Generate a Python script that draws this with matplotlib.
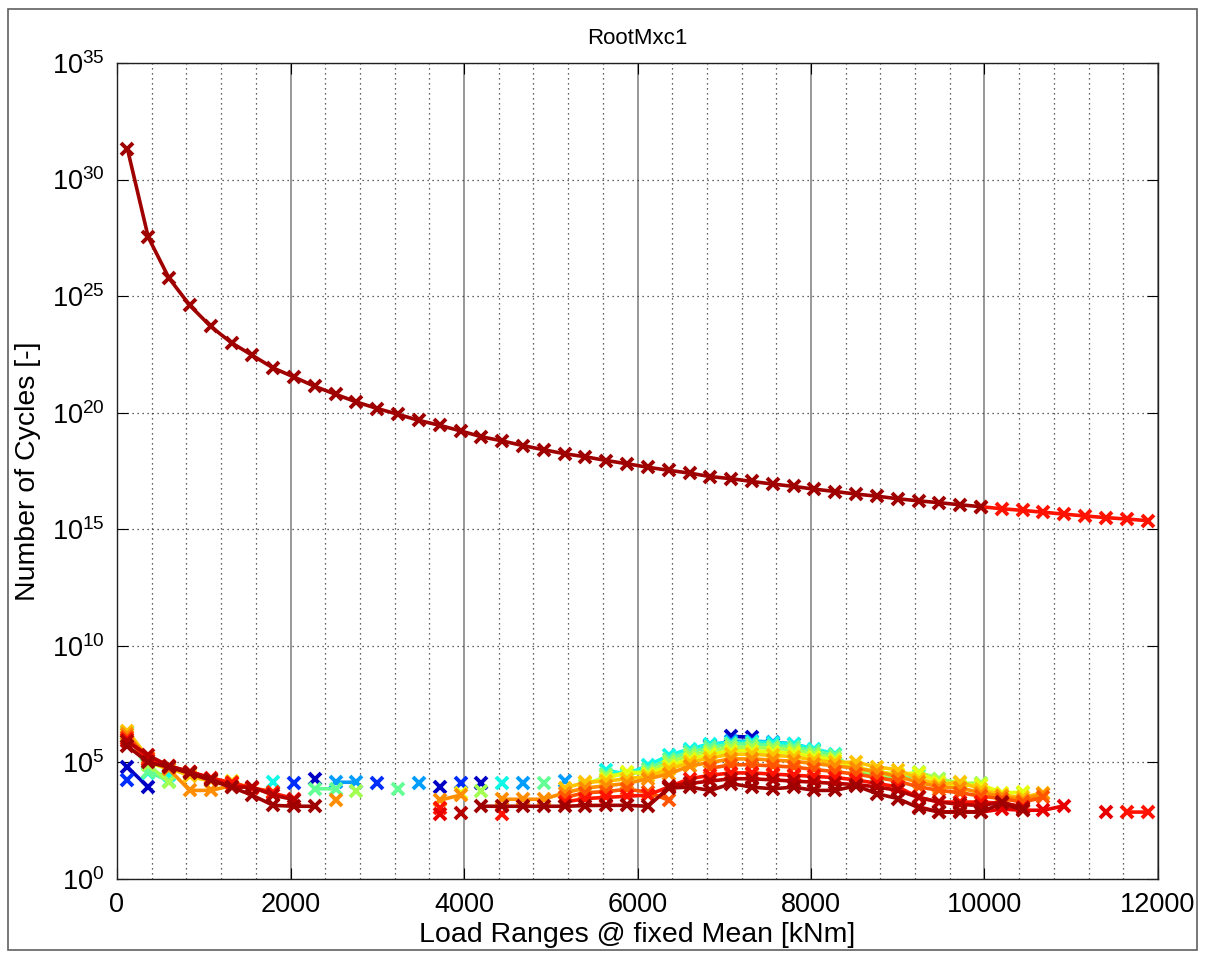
import numpy as np
import matplotlib
matplotlib.use("Agg")
import matplotlib.pyplot as plt
from matplotlib import cm
from matplotlib.ticker import MultipleLocator, NullLocator
from matplotlib.patches import Rectangle

plt.rcParams['font.family'] = ['Liberation Sans', 'DejaVu Sans']
plt.rcParams['mathtext.fontset'] = 'custom'
plt.rcParams['mathtext.rm'] = 'Liberation Sans'
plt.rcParams['mathtext.it'] = 'Liberation Sans:italic'

# bin centres of the load ranges [kNm]
bin_width = 240
load_ranges = np.arange(50) * bin_width + bin_width / 2

# log10 of the number of cycles
# top curve (highest mean bin)
top_curve_exp = [31.32, 27.53, 25.77, 24.60, 23.70, 23.00, 22.46, 21.92, 21.53, 21.13,
                 20.79, 20.46, 20.18, 19.93, 19.67, 19.46, 19.22, 18.97, 18.79, 18.59,
                 18.41, 18.24, 18.11, 17.95, 17.81, 17.66, 17.53, 17.41, 17.26, 17.17,
                 17.05, 16.94, 16.84, 16.72, 16.62, 16.51, 16.42, 16.31, 16.22, 16.14,
                 16.05, 15.97, 15.88, 15.81, 15.73, 15.65, 15.57, 15.50, 15.44, 15.37]
top_dark_bins = 42   # dark red part, the rest is bright red

# the other mean bins: {range bin: log10(cycles)}
s_dark_blue = {0: 4.8, 1: 3.94, 9: 4.3, 15: 3.94, 17: 4.13, 29: 6.12, 30: 6.08}
s_blue = {0: 4.23, 8: 4.11, 12: 4.11, 16: 4.13, 28: 5.7, 31: 5.8}
s_azure = {10: 4.15, 11: 4.15, 14: 4.13, 19: 4.13, 21: 4.2, 27: 5.5, 28: 5.75,
           29: 5.9, 30: 5.92, 31: 5.87, 32: 5.8, 33: 5.55}
s_cyan = {1: 4.55, 2: 4.45, 7: 4.15, 18: 4.13, 23: 4.66, 24: 4.5, 25: 4.87, 26: 5.3,
          27: 5.58, 28: 5.8, 29: 5.85, 30: 5.88, 31: 5.85, 32: 5.78, 33: 5.58, 34: 5.37}
s_green = {0: 6.3, 1: 4.6, 2: 4.2, 9: 3.87, 10: 3.87, 13: 3.87, 20: 4.13, 23: 4.5,
           24: 4.45, 25: 4.7, 26: 5.15, 27: 5.45, 28: 5.65, 29: 5.78, 30: 5.8, 31: 5.72,
           32: 5.66, 33: 5.5, 34: 5.3, 35: 4.6, 36: 4.4, 37: 4.3, 38: 4.45, 39: 4.3,
           41: 4.09}
s_lime = {0: 6.2, 1: 4.9, 2: 4.15, 11: 3.76, 17: 3.76, 22: 4.05, 23: 4.4, 24: 4.55,
          25: 4.6, 26: 5.0, 27: 5.3, 28: 5.5, 29: 5.65, 30: 5.65, 31: 5.6, 32: 5.55,
          33: 5.35, 34: 5.2, 35: 4.7, 36: 4.5, 37: 4.4, 38: 4.58, 39: 4.3, 40: 4.1,
          41: 4.12, 43: 3.7}
s_yellow = {0: 6.15, 1: 5.0, 2: 4.7, 3: 4.5, 5: 4.22, 16: 3.7, 22: 4.1, 23: 4.3,
            24: 4.6, 25: 4.5, 26: 4.85, 27: 5.15, 28: 5.35, 29: 5.5, 30: 5.5, 31: 5.45,
            32: 5.4, 33: 5.25, 34: 5.1, 35: 4.8, 36: 4.6, 37: 4.5, 38: 4.55, 39: 4.15,
            40: 4.0, 41: 4.05, 42: 3.7, 43: 3.72}
s_amber = {0: 6.35, 1: 5.2, 2: 4.8, 3: 4.4, 4: 4.2, 5: 4.1, 21: 3.9, 22: 4.15, 23: 4.2,
           24: 4.3, 25: 4.4, 26: 4.7, 27: 5.0, 28: 5.2, 29: 5.35, 30: 5.35, 31: 5.3,
           32: 5.25, 33: 5.1, 34: 5.0, 35: 5.01, 36: 4.8, 37: 4.69, 38: 4.3, 39: 4.05,
           40: 4.16, 41: 3.85, 42: 3.6, 43: 3.5, 44: 3.7}
s_orange = {0: 6.2, 1: 5.1, 2: 4.7, 3: 3.8, 4: 3.8, 5: 4.0, 6: 3.9, 10: 3.38, 15: 3.38,
            16: 3.6, 18: 3.42, 19: 3.42, 20: 3.42, 21: 3.7, 22: 3.9, 23: 4.0, 24: 4.1,
            25: 4.3, 26: 4.5, 27: 4.85, 28: 5.0, 29: 5.15, 30: 5.15, 31: 5.1, 32: 5.05,
            33: 4.95, 34: 4.85, 35: 4.75, 36: 4.6, 37: 4.4, 38: 4.15, 39: 3.95, 40: 3.9,
            41: 3.7, 42: 3.55, 43: 3.4, 44: 3.66}
s_red_orange = {0: 6.1, 1: 5.2, 2: 4.85, 3: 4.6, 4: 4.3, 5: 4.15, 6: 3.9, 7: 3.75,
                21: 3.5, 22: 3.7, 23: 3.75, 24: 3.85, 25: 3.73, 26: 3.38, 28: 4.75,
                29: 4.9, 30: 4.9, 31: 4.85, 32: 4.8, 33: 4.7, 34: 4.6, 35: 4.5, 36: 4.35,
                37: 4.2, 38: 3.95, 39: 3.8, 40: 3.7, 41: 3.55, 42: 3.45, 43: 3.3, 44: 3.5}
s_red = {0: 6.0, 1: 5.1, 2: 4.8, 3: 4.6, 4: 4.35, 5: 4.1, 6: 3.9, 7: 3.68, 8: 3.45,
         15: 3.04, 18: 2.8, 21: 3.3, 22: 3.45, 23: 3.5, 24: 3.55, 25: 3.6, 26: 3.95,
         27: 4.3, 28: 4.45, 29: 4.55, 30: 4.55, 31: 4.5, 32: 4.45, 33: 4.4, 34: 4.35,
         35: 4.25, 36: 4.1, 37: 3.95, 38: 3.5, 39: 3.3, 40: 3.3, 41: 3.3, 42: 3.25,
         43: 3.1, 48: 2.87, 49: 2.87}
s_red2 = {15: 2.78, 38: 3.1, 39: 2.87, 40: 2.9, 41: 2.87, 42: 3.0, 43: 2.95, 44: 2.95,
          45: 3.14, 47: 2.87}
s_maroon = {0: 5.9, 1: 5.3, 2: 4.85, 3: 4.6, 4: 4.3, 5: 3.94, 6: 3.94, 7: 3.6, 8: 3.4,
            16: 2.85, 26: 4.0, 27: 4.1, 28: 4.2, 29: 4.3, 30: 4.3, 31: 4.25, 32: 4.2,
            33: 4.15, 34: 4.1, 35: 4.05, 36: 3.95, 37: 3.8, 38: 3.5, 39: 3.3, 40: 3.2,
            41: 3.15, 42: 3.3, 43: 3.05}
s_dark_red = {0: 5.7, 1: 5.0, 2: 4.8, 3: 4.53, 4: 4.23, 5: 3.94, 6: 3.59, 7: 3.16,
              8: 3.12, 9: 3.12, 17: 3.12, 18: 3.12, 19: 3.12, 20: 3.12, 21: 3.12,
              22: 3.15, 23: 3.16, 24: 3.16, 25: 3.12, 26: 3.9, 27: 3.94, 28: 3.8,
              29: 4.09, 30: 3.94, 31: 3.87, 32: 3.94, 33: 3.8, 34: 3.8, 35: 4.0,
              36: 3.66, 37: 3.45, 38: 3.06, 39: 2.87, 40: 2.87, 41: 2.87, 42: 3.25,
              43: 2.95}

series = [s_dark_blue, s_blue, s_azure, s_cyan, s_green, s_lime, s_yellow, s_amber,
          s_orange, s_red_orange, s_red, s_red2, s_maroon, s_dark_red]
series_pos = [0.06, 0.17, 0.28, 0.37, 0.47, 0.55, 0.63, 0.70, 0.76, 0.82, 0.89, 0.91,
              0.95, 0.97]


def to_cycles(points):
    y = np.full(len(load_ranges), np.nan)
    for i, e in points.items():
        y[i] = 10.0 ** e
    return y


fig = plt.figure(figsize=(12.05, 9.59), dpi=100)
fig.patches.append(Rectangle((8 / 1205, 1 - 950 / 959), 1189 / 1205, 941 / 959,
                             transform=fig.transFigure, fill=False,
                             edgecolor='#606060', lw=1.2))
ax = fig.add_axes([117 / 1205, 1 - 879 / 959, 1041 / 1205, 816 / 959])

style = dict(marker='x', markersize=8.5, mew=2.8, lw=2.6)
for pts, pos in zip(series, series_pos):
    ax.plot(load_ranges, to_cycles(pts), color=cm.jet(pos), **style)

top = np.power(10.0, np.array(top_curve_exp))
ax.plot(load_ranges[top_dark_bins - 1:], top[top_dark_bins - 1:], color=cm.jet(0.89), **style)
ax.plot(load_ranges[:top_dark_bins], top[:top_dark_bins], color=cm.jet(0.97), **style)

ax.set_yscale('log')
ax.set_xlim(0, 12000)
ax.set_ylim(1, 1e35)
ax.set_xticks(np.arange(0, 12001, 2000))
ax.xaxis.set_minor_locator(MultipleLocator(400))
ax.set_yticks([10.0 ** k for k in range(0, 36, 5)])
ax.set_yticklabels(['$10^{%d}$' % k for k in range(0, 36, 5)])
ax.yaxis.set_minor_locator(NullLocator())

ax.grid(which='major', axis='x', linestyle='-', color='#909090', lw=1.3)
ax.grid(which='minor', axis='x', linestyle=(0, (1, 3)), color='#303030', lw=0.9)
ax.grid(which='major', axis='y', linestyle=(0, (1, 3)), color='#303030', lw=0.9)
ax.set_axisbelow(True)

ax.tick_params(which='major', direction='in', length=8, top=True, right=True,
               labelsize=19.5, pad=9)
ax.tick_params(which='minor', length=0)
for sp in ax.spines.values():
    sp.set_color('#202020')
    sp.set_linewidth(1)

ax.set_title('RootMxc1', fontsize=16, pad=14)
ax.set_xlabel('Load Ranges @ fixed Mean [kNm]', fontsize=20.5, labelpad=3)
ax.set_ylabel('Number of Cycles [-]', fontsize=20.5, labelpad=8)

fig.savefig('out.png', dpi=100, facecolor='white')
